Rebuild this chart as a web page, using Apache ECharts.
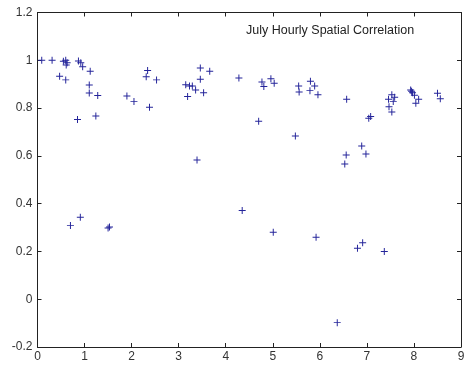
<!DOCTYPE html>
<html>
<head>
<meta charset="utf-8">
<script src="https://cdn.jsdelivr.net/npm/echarts@6/dist/echarts.min.js"></script>
<style>
  html, body { margin: 0; padding: 0; background: #fff; }
  #chart { width: 464px; height: 365px; }
</style>
</head>
<body>
<div id="chart"></div>
<script>
// 数据：横坐标、相关系数
const xVals = [
  0.09, 0.31, 0.55, 0.60, 0.63, 0.61, 0.87, 0.92, 0.96, 1.12,
  0.47, 0.60, 1.10, 1.10, 1.28, 1.90, 2.05, 2.34, 2.31, 2.53,
  2.38, 0.85, 1.24, 3.46, 3.66, 3.46, 3.15, 3.23, 3.29, 3.36,
  3.53, 3.19, 4.28, 4.77, 4.96, 5.03, 4.81, 5.55, 5.56, 5.80,
  5.89, 5.79, 5.96, 4.70, 6.57, 7.04, 7.08, 7.53, 7.59, 7.46,
  7.56, 7.47, 7.53, 7.93, 7.95, 7.97, 8.01, 8.10, 8.04, 8.50,
  8.56, 5.48, 3.39, 6.89, 6.56, 6.98, 6.53, 0.70, 0.91, 1.50,
  1.53, 4.35, 5.01, 5.92, 6.91, 6.80, 7.37, 6.37
];
const yVals = [
  1.000, 1.000, 0.996, 1.000, 0.990, 0.980, 0.997, 0.990, 0.973, 0.954,
  0.933, 0.918, 0.897, 0.863, 0.853, 0.851, 0.827, 0.957, 0.931, 0.918,
  0.803, 0.752, 0.767, 0.968, 0.954, 0.921, 0.898, 0.892, 0.892, 0.876,
  0.864, 0.848, 0.926, 0.909, 0.923, 0.904, 0.890, 0.892, 0.867, 0.912,
  0.892, 0.873, 0.856, 0.745, 0.837, 0.757, 0.765, 0.856, 0.845, 0.837,
  0.828, 0.806, 0.784, 0.876, 0.870, 0.864, 0.854, 0.837, 0.820, 0.862,
  0.839, 0.683, 0.583, 0.641, 0.604, 0.608, 0.566, 0.308, 0.343, 0.298,
  0.302, 0.371, 0.280, 0.259, 0.236, 0.213, 0.200, -0.098
];
const titleText = 'July Hourly Spatial Correlation';

const points = xVals.map((x, i) => [x, yVals[i]]);

const axisColor = '#222';
const labelStyle = { color: '#333', fontSize: 12, fontFamily: 'Liberation Sans, Arial, sans-serif' };

//坐标轴公共样式
function frameAxis(extra) {
  return Object.assign({
    type: 'value',
    axisLine: { show: true, onZero: false, lineStyle: { color: axisColor, width: 1 } },
    axisTick: { show: true, inside: true, length: 4, lineStyle: { color: axisColor } },
    splitLine: { show: false },
    axisLabel: { show: false }
  }, extra);
}

const chart = echarts.init(document.getElementById('chart'), null, { renderer: 'canvas' });
chart.setOption({
  backgroundColor: '#fff',
  animation: false,
  title: {
    text: titleText,
    left: 246,
    top: 24,
    padding: 0,
    textStyle: { fontSize: 12.5, fontWeight: 'normal', color: '#222', fontFamily: 'Liberation Sans, Arial, sans-serif' }
  },
  grid: { left: 37.5, right: 3, top: 12.5, bottom: 18, containLabel: false, outerBoundsMode: 'none' },
  xAxis: [
    frameAxis({
      min: 0, max: 9, interval: 1, position: 'bottom',
      axisLabel: Object.assign({ show: true, margin: 4 }, labelStyle)
    }),
    frameAxis({ min: 0, max: 9, interval: 1, position: 'top' })
  ],
  yAxis: [
    frameAxis({
      min: -0.2, max: 1.2, interval: 0.2, position: 'left',
      axisLabel: Object.assign({
        show: true, margin: 5,
        formatter: (v) => String(+v.toFixed(1))
      }, labelStyle)
    }),
    frameAxis({ min: -0.2, max: 1.2, interval: 0.2, position: 'right' })
  ],
  series: [{
    type: 'scatter',
    data: points,
    symbol: 'path://M-1,-0.14H1V0.14H-1ZM-0.14,-1H0.14V1H-0.14Z',
    symbolSize: 7,
    itemStyle: { color: '#24249a', opacity: 1 }
  }]
});
</script>
</body>
</html>
